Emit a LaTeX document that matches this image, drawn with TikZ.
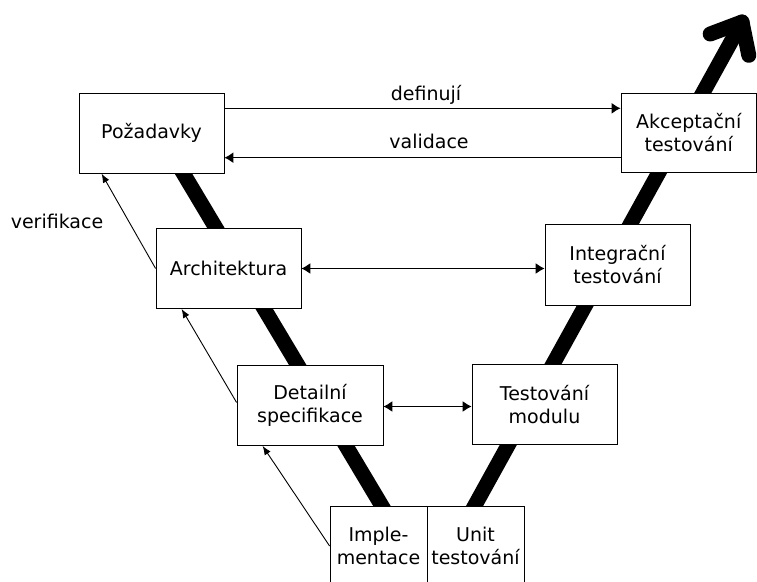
\documentclass[tikz,border=0pt]{standalone}
\usepackage{fontspec}
\setmainfont{DejaVu Sans}
\usetikzlibrary{arrows.meta,calc}

\begin{document}
\begin{tikzpicture}[x=1pt,y=-1pt,
  txt/.style={font=\fontsize{19}{22.5}\selectfont},
  box/.style={txt,draw=black,line width=0.8pt,fill=white,inner sep=0pt,
    align=center,minimum width=145pt,minimum height=80pt},
  vee/.style={line width=15pt,black},
  harrow/.style={line width=1.2pt,-{Latex[length=9pt,width=11pt]}},
  dharrow/.style={line width=1.2pt,{Latex[length=9pt,width=11pt]}-{Latex[length=9pt,width=11pt]}},
  verarrow/.style={line width=0.9pt,-{Latex[length=9pt,width=7pt]}},
  lbl/.style={txt,inner sep=0pt,anchor=base}]

\useasboundingbox (0,0) rectangle (757,581);

% the two arms of the V, drawn first so the boxes cover their ends
\coordinate (vl1) at (175.3,160);
\coordinate (vl2) at (390.3,520);
\coordinate (vr1) at (466.8,520);
\coordinate (tip) at (742,22);
\coordinate (wingl) at (710.2,34);
\coordinate (wingr) at (748.8,55.3);
\draw[vee] (vl1) -- (vl2);
\draw[vee,line cap=round] (vr1) -- (tip);
\draw[vee,line cap=round,line join=round] (wingl) -- (tip) -- (wingr);

% phases
\node[box] (poz)   at (151.5,133.3) {Požadavky};
\node[box,minimum width=135.5pt,minimum height=79.5pt] (akc) at (688.75,132.7) {Akceptační\\testování};
\node[box] (arch)  at (228.5,268.5) {Architektura};
\node[box,minimum height=81pt] (integ) at (617.5,264.5) {Integrační\\testování};
\node[box,minimum width=146pt] (det) at (310,405.5) {Detailní\\specifikace};
\node[box] (test)  at (544.5,404.5) {Testování\\modulu};
\node[box,minimum width=97pt] (impl) at (378.5,546) {Imple-\\mentace};
\node[box,minimum width=97pt] (unit) at (475.5,546) {Unit\\testování};

% definition / validation
\draw[harrow] ([yshift=25pt]poz.east) -- ([yshift=24.4pt]akc.west);
\draw[harrow] ([yshift=-25pt]akc.west) -- ([yshift=-24.4pt]poz.east);
\node[lbl] (ldef) at (426,100) {definují};
\node[lbl] (lval) at (429,148) {validace};

% horizontal links between the levels
\draw[dharrow] (arch.east) -- (arch.east -| integ.west);
\draw[dharrow] ([yshift=-1pt]det.east) -- ([yshift=-1pt]det.east -| test.west);

% verification
\draw[verarrow] (arch.west) -- ([xshift=23pt]poz.south west);
\draw[verarrow] ([yshift=3pt]det.west) -- ([xshift=26pt]arch.south west);
\draw[verarrow] (impl.west) -- ([xshift=26pt]det.south west);
\node[lbl] (lver) at (57,228) {verifikace};

\end{tikzpicture}
\end{document}
